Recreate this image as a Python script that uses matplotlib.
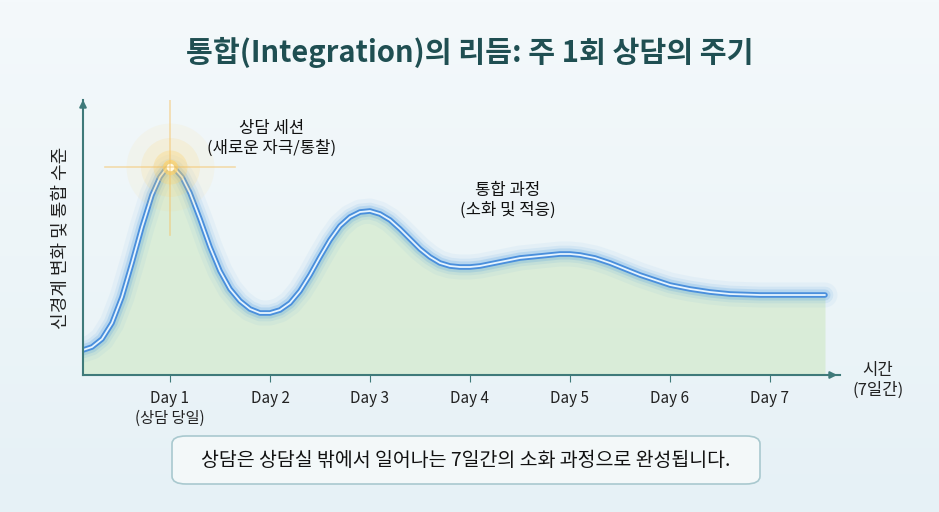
import numpy as np
import matplotlib.pyplot as plt
from matplotlib.patches import FancyBboxPatch

plt.rcParams['font.family'] = ['Noto Sans CJK KR', 'DejaVu Sans']

# curve (day, level)
days = [0.13, 0.22, 0.32, 0.42, 0.52, 0.62, 0.72, 0.82, 0.9, 0.96, 1.0, 1.05, 1.12, 1.2, 1.3,
        1.4, 1.5, 1.6, 1.7, 1.8, 1.9, 2.0, 2.1, 2.2, 2.3, 2.4, 2.5, 2.6, 2.7, 2.8, 2.9,
        3.0, 3.1, 3.2, 3.3, 3.4, 3.5, 3.6, 3.7, 3.8, 3.9, 4.0, 4.1, 4.2, 4.35, 4.5, 4.7,
        4.9, 5.0, 5.1, 5.25, 5.4, 5.55, 5.7, 5.85, 6.0, 6.2, 6.4, 6.6, 6.9, 7.2, 7.55]
level = [25, 28, 36, 52, 78, 112, 148, 180, 198, 206, 208, 206, 198, 182, 156,
         128, 104, 86, 74, 66, 62, 62, 65, 72, 84, 100, 118, 135, 149, 158, 163,
         164, 161, 155, 146, 136, 126, 118, 112, 109, 108, 108, 109, 111, 114, 117, 119,
         121, 121, 120, 117, 112, 106, 100, 95, 90, 86, 83, 81, 80, 80, 80]
tick_days = [1, 2, 3, 4, 5, 6, 7]
tick_labels = ['Day 1\n(상담 당일)', 'Day 2', 'Day 3', 'Day 4', 'Day 5', 'Day 6', 'Day 7']

fig = plt.figure(figsize=(9.39, 5.12), dpi=100)
bg = fig.add_axes([0, 0, 1, 1])
grad = np.linspace(0, 1, 256).reshape(-1, 1)
bg.imshow(grad, aspect='auto', cmap=plt.matplotlib.colors.LinearSegmentedColormap.from_list(
    'bg', ['#f4f9fb', '#e6f1f6']), extent=[0, 1, 0, 1])
bg.axis('off')

W, H = 939, 512
ax = fig.add_axes([83 / W, (H - 375) / H, (840 - 83) / W, (375 - 100) / H])
ax.patch.set_alpha(0)
ax.set_xlim(0.13, 7.7)
ax.set_ylim(0, 275)

ax.fill_between(days, level, 0, color='#d3eacb', alpha=0.7, lw=0)
for lw, a in [(18, 0.06), (12, 0.1), (8, 0.2)]:
    ax.plot(days, level, color='#4a9be0', lw=lw, alpha=a, solid_capstyle='round', solid_joinstyle='round')
ax.plot(days, level, color='#4a8fdc', lw=4, solid_capstyle='round', solid_joinstyle='round')
ax.plot(days, level, color='#e6f4ff', lw=1.3, solid_capstyle='round', solid_joinstyle='round')

# flare on the session day
for s, a in [(4000, 0.08), (1800, 0.15), (600, 0.3), (120, 0.7), (30, 1)]:
    ax.scatter([1.0], [208], s=s, color='#ffd36b' if s > 100 else '#fffbe8', alpha=a, lw=0, zorder=5)
ax.plot([0.35, 1.65], [208, 208], color='#f5c060', lw=1.2, alpha=0.5, zorder=5)
ax.plot([1.0, 1.0], [140, 275], color='#f5c060', lw=1.2, alpha=0.5, zorder=5)

for sp in ['top', 'right']:
    ax.spines[sp].set_visible(False)
for sp in ['left', 'bottom']:
    ax.spines[sp].set_color('#3f7a7a')
    ax.spines[sp].set_linewidth(1.5)
ax.annotate('', xy=(7.7, 0), xytext=(7.55, 0), xycoords='data',
            arrowprops=dict(arrowstyle='-|>', color='#3f7a7a', lw=1.5), annotation_clip=False)
ax.annotate('', xy=(0.13, 278), xytext=(0.13, 265),
            arrowprops=dict(arrowstyle='-|>', color='#3f7a7a', lw=1.5), annotation_clip=False)
ax.set_yticks([])
ax.set_xticks(tick_days)
ax.set_xticklabels(tick_labels, fontsize=11, color='#222222')
ax.tick_params(axis='x', length=5, color='#3f7a7a', pad=6)

ax.set_ylabel('신경계 변화 및 통합 수준', fontsize=13, color='#222222', labelpad=10)
fig.text(878 / W, 1 - 380 / H, '시간\n(7일간)', fontsize=12, ha='center', va='center', color='#222222')
fig.text(272 / W, 1 - 138 / H, '상담 세션\n(새로운 자극/통찰)', fontsize=12, ha='center', va='center', color='#111111')
fig.text(508 / W, 1 - 200 / H, '통합 과정\n(소화 및 적응)', fontsize=12, ha='center', va='center', color='#111111')
fig.text(0.5, 1 - 52 / H, '통합(Integration)의 리듬: 주 1회 상담의 주기', fontsize=21, fontweight='bold',
         ha='center', va='center', color='#1f4f52')

box = FancyBboxPatch((172 / W, 1 - 484 / H), (760 - 172) / W, 48 / H,
                     boxstyle='round,pad=0,rounding_size=0.015', transform=fig.transFigure,
                     facecolor='#f3f8f9', edgecolor='#a9c9cf', lw=1.2)
fig.patches.append(box)
fig.text(466 / W, 1 - 460 / H, '상담은 상담실 밖에서 일어나는 7일간의 소화 과정으로 완성됩니다.',
         fontsize=14, ha='center', va='center', color='#111111')

fig.savefig('out.png', dpi=100)
